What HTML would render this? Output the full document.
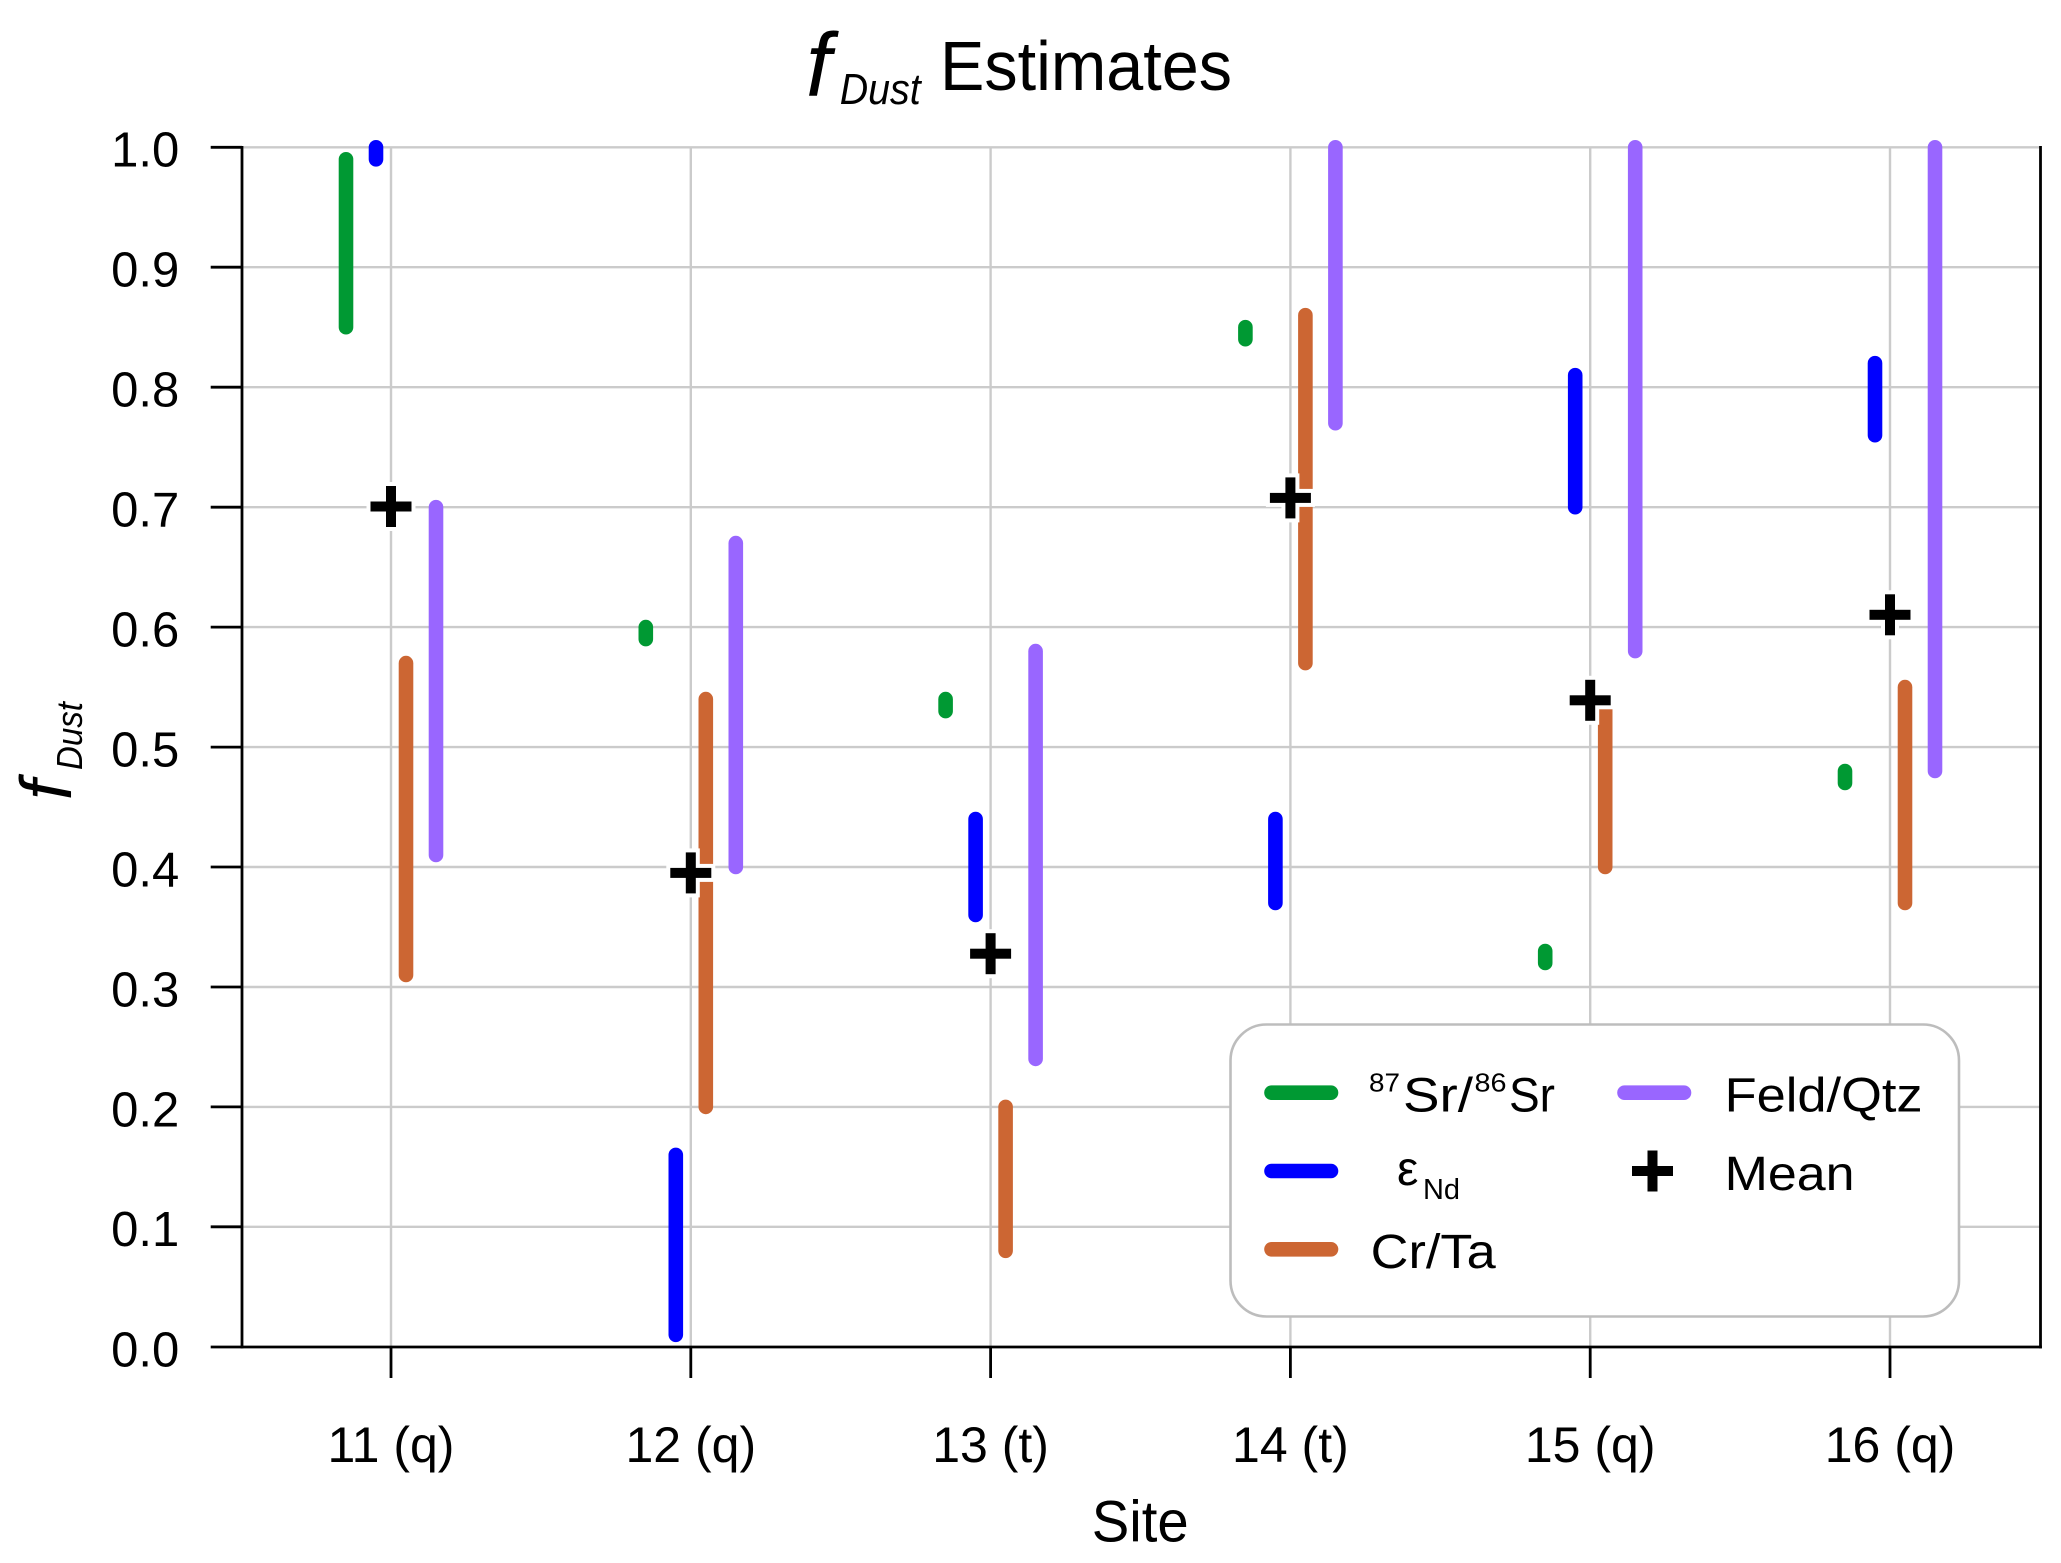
<!DOCTYPE html>
<html>
<head>
<meta charset="utf-8">
<style>
  html, body { margin: 0; padding: 0; background: #ffffff; }
  svg { display: block; }
  text { font-family: "Liberation Sans", "DejaVu Sans", sans-serif; fill: #000; }
</style>
</head>
<body>
<svg width="2061" height="1563" viewBox="0 0 2061 1563" xmlns="http://www.w3.org/2000/svg">
  <rect x="0" y="0" width="2061" height="1563" fill="#ffffff"/>

  <!-- Grid -->
  <g stroke="#cbcbcb" stroke-width="2.4">
    <line x1="242" y1="147.3" x2="2040" y2="147.3"/>
    <line x1="242" y1="267.2" x2="2040" y2="267.2"/>
    <line x1="242" y1="387.2" x2="2040" y2="387.2"/>
    <line x1="242" y1="507.2" x2="2040" y2="507.2"/>
    <line x1="242" y1="627.1" x2="2040" y2="627.1"/>
    <line x1="242" y1="747.1" x2="2040" y2="747.1"/>
    <line x1="242" y1="867.0" x2="2040" y2="867.0"/>
    <line x1="242" y1="987.0" x2="2040" y2="987.0"/>
    <line x1="242" y1="1106.9" x2="2040" y2="1106.9"/>
    <line x1="242" y1="1226.8" x2="2040" y2="1226.8"/>
    <line x1="391" y1="147.3" x2="391" y2="1347"/>
    <line x1="690.8" y1="147.3" x2="690.8" y2="1347"/>
    <line x1="990.6" y1="147.3" x2="990.6" y2="1347"/>
    <line x1="1290.4" y1="147.3" x2="1290.4" y2="1347"/>
    <line x1="1590.2" y1="147.3" x2="1590.2" y2="1347"/>
    <line x1="1890" y1="147.3" x2="1890" y2="1347"/>
  </g>

  <!-- Data: green 87Sr/86Sr -->
  <g stroke="#009933" stroke-width="14.6" stroke-linecap="round">
    <line x1="346" y1="159.3" x2="346" y2="327.2"/>
    <line x1="645.8" y1="627.1" x2="645.8" y2="639.1"/>
    <line x1="945.6" y1="699.1" x2="945.6" y2="711.1"/>
    <line x1="1245.4" y1="327.2" x2="1245.4" y2="339.2"/>
    <line x1="1545.2" y1="951.0" x2="1545.2" y2="963.0"/>
    <line x1="1845" y1="771.0" x2="1845" y2="783.0"/>
  </g>
  <!-- blue eps Nd -->
  <g stroke="#0000ff" stroke-width="14.6" stroke-linecap="round">
    <line x1="376" y1="147.3" x2="376" y2="159.3"/>
    <line x1="675.8" y1="1154.9" x2="675.8" y2="1334.8"/>
    <line x1="975.6" y1="819.0" x2="975.6" y2="915.0"/>
    <line x1="1275.4" y1="819.0" x2="1275.4" y2="903.0"/>
    <line x1="1575.2" y1="375.2" x2="1575.2" y2="507.2"/>
    <line x1="1875" y1="363.2" x2="1875" y2="435.2"/>
  </g>
  <!-- orange Cr/Ta -->
  <g stroke="#cc6633" stroke-width="14.6" stroke-linecap="round">
    <line x1="406" y1="663.1" x2="406" y2="975.0"/>
    <line x1="705.8" y1="699.1" x2="705.8" y2="1106.9"/>
    <line x1="1005.6" y1="1106.9" x2="1005.6" y2="1250.8"/>
    <line x1="1305.4" y1="315.2" x2="1305.4" y2="663.1"/>
    <line x1="1605.2" y1="701.5" x2="1605.2" y2="867.0"/>
    <line x1="1905" y1="687.1" x2="1905" y2="903.0"/>
  </g>
  <!-- purple Feld/Qtz -->
  <g stroke="#9966ff" stroke-width="14.6" stroke-linecap="round">
    <line x1="436" y1="507.2" x2="436" y2="855.0"/>
    <line x1="735.8" y1="543.1" x2="735.8" y2="867.0"/>
    <line x1="1035.6" y1="651.1" x2="1035.6" y2="1058.9"/>
    <line x1="1335.4" y1="147.3" x2="1335.4" y2="423.2"/>
    <line x1="1635.2" y1="147.3" x2="1635.2" y2="651.1"/>
    <line x1="1935" y1="147.3" x2="1935" y2="771.0"/>
  </g>

  <!-- Means (plus with white outline) -->
  <g>
    <!-- 11 -->
    <rect x="366.5" y="497.5" width="49" height="18" fill="#fff"/>
    <rect x="382" y="482" width="18" height="49" fill="#fff"/>
    <rect x="370.5" y="501.5" width="41" height="10" fill="#000"/>
    <rect x="386" y="486" width="10" height="41" fill="#000"/>
    <!-- 12 -->
    <rect x="666.3" y="863.9" width="49" height="18" fill="#fff"/>
    <rect x="681.8" y="848.4" width="18" height="49" fill="#fff"/>
    <rect x="670.3" y="867.9" width="41" height="10" fill="#000"/>
    <rect x="685.8" y="852.4" width="10" height="41" fill="#000"/>
    <!-- 13 -->
    <rect x="966.1" y="944.7" width="49" height="18" fill="#fff"/>
    <rect x="981.6" y="929.2" width="18" height="49" fill="#fff"/>
    <rect x="970.1" y="948.7" width="41" height="10" fill="#000"/>
    <rect x="985.6" y="933.2" width="10" height="41" fill="#000"/>
    <!-- 14 -->
    <rect x="1265.9" y="488.9" width="49" height="18" fill="#fff"/>
    <rect x="1281.4" y="473.4" width="18" height="49" fill="#fff"/>
    <rect x="1269.9" y="492.9" width="41" height="10" fill="#000"/>
    <rect x="1285.4" y="477.4" width="10" height="41" fill="#000"/>
    <!-- 15 -->
    <rect x="1565.7" y="691.3" width="49" height="18" fill="#fff"/>
    <rect x="1581.2" y="675.8" width="18" height="49" fill="#fff"/>
    <rect x="1569.7" y="695.3" width="41" height="10" fill="#000"/>
    <rect x="1585.2" y="679.8" width="10" height="41" fill="#000"/>
    <!-- 16 -->
    <rect x="1865.5" y="605.8" width="49" height="18" fill="#fff"/>
    <rect x="1881" y="590.3" width="18" height="49" fill="#fff"/>
    <rect x="1869.5" y="609.8" width="41" height="10" fill="#000"/>
    <rect x="1885" y="594.3" width="10" height="41" fill="#000"/>
  </g>

  <!-- Spines -->
  <g stroke="#000" stroke-width="2.8" fill="none">
    <line x1="242" y1="146" x2="242" y2="1348.4"/>
    <line x1="2040.5" y1="146" x2="2040.5" y2="1348.4"/>
    <line x1="240.6" y1="1347" x2="2041.9" y2="1347"/>
  </g>
  <!-- Ticks -->
  <g stroke="#000" stroke-width="2.8">
    <line x1="210.7" y1="147.3" x2="242" y2="147.3"/>
    <line x1="210.7" y1="267.2" x2="242" y2="267.2"/>
    <line x1="210.7" y1="387.2" x2="242" y2="387.2"/>
    <line x1="210.7" y1="507.2" x2="242" y2="507.2"/>
    <line x1="210.7" y1="627.1" x2="242" y2="627.1"/>
    <line x1="210.7" y1="747.1" x2="242" y2="747.1"/>
    <line x1="210.7" y1="867.0" x2="242" y2="867.0"/>
    <line x1="210.7" y1="987.0" x2="242" y2="987.0"/>
    <line x1="210.7" y1="1106.9" x2="242" y2="1106.9"/>
    <line x1="210.7" y1="1226.8" x2="242" y2="1226.8"/>
    <line x1="210.7" y1="1347" x2="242" y2="1347"/>
    <line x1="391" y1="1347" x2="391" y2="1378"/>
    <line x1="690.8" y1="1347" x2="690.8" y2="1378"/>
    <line x1="990.6" y1="1347" x2="990.6" y2="1378"/>
    <line x1="1290.4" y1="1347" x2="1290.4" y2="1378"/>
    <line x1="1590.2" y1="1347" x2="1590.2" y2="1378"/>
    <line x1="1890" y1="1347" x2="1890" y2="1378"/>
  </g>

  <!-- Y tick labels -->
  <g font-size="49" text-anchor="end">
    <text x="179.3" y="166.7">1.0</text>
    <text x="179.3" y="286.6">0.9</text>
    <text x="179.3" y="406.6">0.8</text>
    <text x="179.3" y="526.6">0.7</text>
    <text x="179.3" y="646.5">0.6</text>
    <text x="179.3" y="766.5">0.5</text>
    <text x="179.3" y="886.4">0.4</text>
    <text x="179.3" y="1006.4">0.3</text>
    <text x="179.3" y="1126.3">0.2</text>
    <text x="179.3" y="1246.2">0.1</text>
    <text x="179.3" y="1366.4">0.0</text>
  </g>

  <!-- X tick labels -->
  <g font-size="50" text-anchor="middle">
    <text x="391" y="1462">11 (q)</text>
    <text x="690.8" y="1462">12 (q)</text>
    <text x="990.6" y="1462">13 (t)</text>
    <text x="1290.4" y="1462">14 (t)</text>
    <text x="1590.2" y="1462">15 (q)</text>
    <text x="1890" y="1462">16 (q)</text>
  </g>

  <!-- X axis label -->
  <text x="1091.7" y="1541.7" font-size="58" textLength="97" lengthAdjust="spacingAndGlyphs">Site</text>

  <!-- Y axis label -->
  <g transform="translate(71,800) rotate(-90)">
    <text x="0" y="0" font-size="72" font-style="italic">f</text>
    <text x="30" y="11" font-size="36" font-style="italic" textLength="68" lengthAdjust="spacingAndGlyphs">Dust</text>
  </g>

  <!-- Title -->
  <text x="806" y="96" font-size="90" font-style="italic">f</text>
  <text x="839.7" y="104" font-size="44" font-style="italic" textLength="81" lengthAdjust="spacingAndGlyphs">Dust</text>
  <text x="940" y="90" font-size="70" textLength="292" lengthAdjust="spacingAndGlyphs">Estimates</text>

  <!-- Legend -->
  <rect x="1230.5" y="1024.5" width="728.5" height="292" rx="36" ry="36" fill="#ffffff" stroke="#bdbdbd" stroke-width="2.6"/>
  <g stroke-width="14.6" stroke-linecap="round">
    <line x1="1271.5" y1="1092.7" x2="1331" y2="1092.7" stroke="#009933"/>
    <line x1="1271.5" y1="1171" x2="1331" y2="1171" stroke="#0000ff"/>
    <line x1="1271.5" y1="1249.3" x2="1331" y2="1249.3" stroke="#cc6633"/>
    <line x1="1624.5" y1="1092.7" x2="1684" y2="1092.7" stroke="#9966ff"/>
  </g>
  <rect x="1632" y="1166" width="41" height="10" fill="#000"/>
  <rect x="1647.5" y="1150.5" width="10" height="41" fill="#000"/>

  <text x="1369" y="1091.7" font-size="26" textLength="31" lengthAdjust="spacingAndGlyphs">87</text>
  <text x="1403" y="1111.7" font-size="48" textLength="70" lengthAdjust="spacingAndGlyphs">Sr/</text>
  <text x="1474.5" y="1091.7" font-size="26" textLength="32" lengthAdjust="spacingAndGlyphs">86</text>
  <text x="1509" y="1111.7" font-size="48" textLength="46" lengthAdjust="spacingAndGlyphs">Sr</text>

  <text x="1397" y="1185" font-size="48">ε</text>
  <text x="1423" y="1199" font-size="29" textLength="37" lengthAdjust="spacingAndGlyphs">Nd</text>

  <text x="1370.7" y="1268" font-size="48" textLength="125" lengthAdjust="spacingAndGlyphs">Cr/Ta</text>
  <text x="1724.6" y="1111.7" font-size="48" textLength="198" lengthAdjust="spacingAndGlyphs">Feld/Qtz</text>
  <text x="1724.6" y="1190" font-size="48" textLength="130" lengthAdjust="spacingAndGlyphs">Mean</text>
</svg>
</body>
</html>
